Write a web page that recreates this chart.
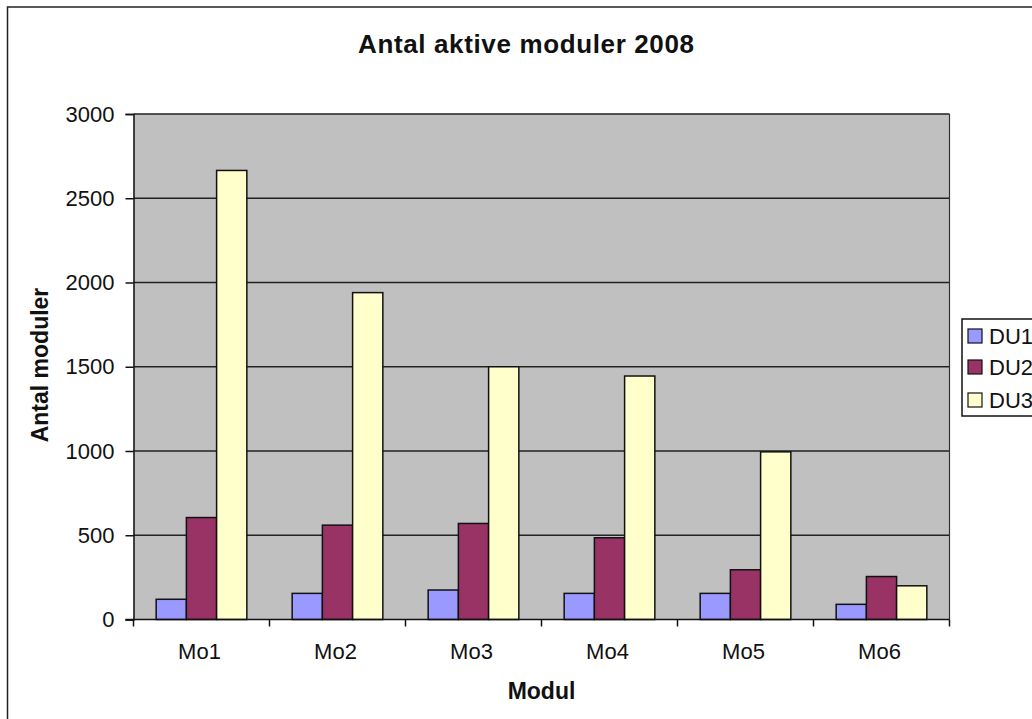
<!DOCTYPE html>
<html>
<head>
<meta charset="utf-8">
<script src="https://cdn.jsdelivr.net/npm/d3@7"></script>
<style>
  body { margin: 0; background: #fff; }
  svg { display: block; font-family: 'Liberation Sans', Arial, sans-serif; }
</style>
</head>
<body>
<div id="chart"></div>
<script>
const categories = ['Mo1', 'Mo2', 'Mo3', 'Mo4', 'Mo5', 'Mo6']
const seriesNames = ['DU1', 'DU2', 'DU3']
const du1 = [120, 155, 175, 155, 155, 90]
const du2 = [605, 560, 570, 485, 295, 255]
const du3 = [2665, 1940, 1500, 1445, 995, 200]
const yTicks = [0, 500, 1000, 1500, 2000, 2500, 3000]
const colors = ['#9999ff', '#993366', '#ffffcc']

const W = 1032
const H = 719
const plot = { left: 133.5, right: 949.5, top: 114, bottom: 619.5 }

const rows = categories.map((c, i) => ({
  cat: c,
  values: [du1[i], du2[i], du3[i]]
}))

const svg = d3
  .select('#chart')
  .append('svg')
  .attr('width', W)
  .attr('height', H)

// outer chart frame (runs off the right and bottom edges)
svg
  .append('rect')
  .attr('x', 7.5)
  .attr('y', 7)
  .attr('width', 1100)
  .attr('height', 800)
  .attr('fill', '#fff')
  .attr('stroke', '#222')
  .attr('stroke-width', 1.5)

const x0 = d3
  .scaleBand()
  .domain(categories)
  .range([plot.left, plot.right])

const x1 = d3
  .scaleBand()
  .domain(seriesNames)
  .range([0, x0.bandwidth()])
  .paddingInner(0)
  .paddingOuter(0.75)

const y = d3
  .scaleLinear()
  .domain([0, 3000])
  .range([plot.bottom, plot.top])

// plot background
svg
  .append('rect')
  .attr('x', plot.left)
  .attr('y', plot.top)
  .attr('width', plot.right - plot.left)
  .attr('height', plot.bottom - plot.top)
  .attr('fill', '#c0c0c0')

// gridlines
svg
  .append('g')
  .selectAll('line')
  .data(yTicks.filter(d => d > 0))
  .enter()
  .append('line')
  .attr('x1', plot.left)
  .attr('x2', plot.right)
  .attr('y1', d => y(d))
  .attr('y2', d => y(d))
  .attr('stroke', '#222')
  .attr('stroke-width', 1.5)

// right border of plot area
svg
  .append('line')
  .attr('x1', plot.right)
  .attr('x2', plot.right)
  .attr('y1', plot.top)
  .attr('y2', plot.bottom)
  .attr('stroke', '#333')
  .attr('stroke-width', 1.2)

// bars
const groups = svg
  .append('g')
  .selectAll('g')
  .data(rows)
  .enter()
  .append('g')
  .attr('transform', d => `translate(${x0(d.cat)},0)`)

groups
  .selectAll('rect')
  .data(d => d.values.map((v, i) => ({ key: seriesNames[i], value: v, i: i })))
  .enter()
  .append('rect')
  .attr('x', d => x1(d.key))
  .attr('y', d => y(d.value))
  .attr('width', x1.bandwidth())
  .attr('height', d => y(0) - y(d.value))
  .attr('fill', d => colors[d.i])
  .attr('stroke', '#111')
  .attr('stroke-width', 1.5)

// y axis
const yAxis = svg
  .append('g')
  .attr('transform', `translate(${plot.left},0)`)
  .call(
    d3
      .axisLeft(y)
      .tickValues(yTicks)
      .tickFormat(d3.format('d'))
      .tickSize(8)
      .tickPadding(11)
  )
yAxis.select('.domain').attr('stroke', '#111').attr('stroke-width', 1.5)
yAxis.selectAll('.tick line').attr('stroke', '#111').attr('stroke-width', 1.5)
yAxis
  .selectAll('.tick text')
  .attr('font-size', 22)
  .attr('font-family', "'Liberation Sans', Arial, sans-serif")
  .attr('fill', '#111')

// x axis: labels centred in bands, ticks on band edges
const xAxis = svg
  .append('g')
  .attr('transform', `translate(0,${plot.bottom})`)
  .call(
    d3
      .axisBottom(x0)
      .tickSize(0)
      .tickPadding(24)
  )
xAxis.select('.domain').remove()
xAxis
  .selectAll('.tick text')
  .attr('font-size', 22)
  .attr('font-family', "'Liberation Sans', Arial, sans-serif")
  .attr('fill', '#111')
  .attr('dx', -2)

svg
  .append('line')
  .attr('x1', plot.left - 8)
  .attr('x2', plot.right)
  .attr('y1', plot.bottom)
  .attr('y2', plot.bottom)
  .attr('stroke', '#111')
  .attr('stroke-width', 1.5)

const edges = categories.map(c => x0(c)).concat([plot.right])
svg
  .append('g')
  .selectAll('line')
  .data(edges)
  .enter()
  .append('line')
  .attr('x1', d => d)
  .attr('x2', d => d)
  .attr('y1', plot.bottom)
  .attr('y2', plot.bottom + 7)
  .attr('stroke', '#111')
  .attr('stroke-width', 1.5)

// titles
svg
  .append('text')
  .attr('x', 526)
  .attr('y', 53)
  .attr('text-anchor', 'middle')
  .attr('font-size', 26)
  .attr('font-weight', 'bold')
  .attr('fill', '#111')
  .attr('textLength', 336)
  .attr('lengthAdjust', 'spacing')
  .text('Antal aktive moduler 2008')

svg
  .append('text')
  .attr('x', (plot.left + plot.right) / 2)
  .attr('y', 699)
  .attr('text-anchor', 'middle')
  .attr('font-size', 23)
  .attr('font-weight', 'bold')
  .attr('fill', '#111')
  .text('Modul')

svg
  .append('text')
  .attr('transform', `translate(48,365) rotate(-90)`)
  .attr('text-anchor', 'middle')
  .attr('font-size', 23)
  .attr('font-weight', 'bold')
  .attr('fill', '#111')
  .text('Antal moduler')

// legend
const legend = svg.append('g').attr('transform', 'translate(962,319)')
legend
  .append('rect')
  .attr('width', 120)
  .attr('height', 97)
  .attr('fill', '#fff')
  .attr('stroke', '#111')
  .attr('stroke-width', 1.5)

const rowY = [17, 48, 81]
const items = legend
  .selectAll('g')
  .data(seriesNames)
  .enter()
  .append('g')
  .attr('transform', (d, i) => `translate(0,${rowY[i]})`)

items
  .append('rect')
  .attr('x', 6)
  .attr('y', -7)
  .attr('width', 14)
  .attr('height', 14)
  .attr('fill', (d, i) => colors[i])
  .attr('stroke', '#111')
  .attr('stroke-width', 1.2)

items
  .append('text')
  .attr('x', 27)
  .attr('y', 8)
  .attr('font-size', 22)
  .attr('fill', '#111')
  .text(d => d)
</script>
</body>
</html>
